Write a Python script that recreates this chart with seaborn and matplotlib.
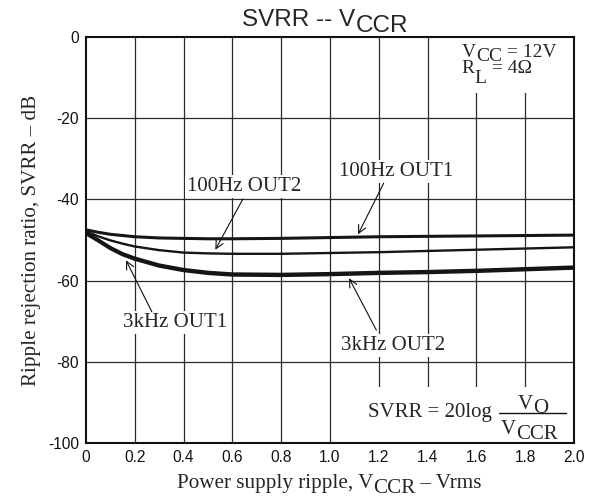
import pandas as pd
import seaborn as sns
import matplotlib.pyplot as plt
from matplotlib.patches import Rectangle
from matplotlib.lines import Line2D

# ---- data ----
ripple_v = [0, 0.05, 0.1, 0.15, 0.2, 0.3, 0.4, 0.5, 0.6, 0.8, 1.0, 1.2, 1.4, 1.6, 1.8, 2.0]
svrr_100hz_out1 = [-47.5, -48.1, -48.6, -48.9, -49.2, -49.5, -49.6, -49.7, -49.7, -49.6, -49.4, -49.2, -49.1, -49.0, -48.9, -48.8]
svrr_100hz_out2 = [-47.9, -49.1, -50.1, -50.9, -51.6, -52.5, -53.1, -53.3, -53.4, -53.4, -53.2, -53.0, -52.7, -52.4, -52.1, -51.8]
svrr_3khz_out1 = [-48.1, -49.9, -51.8, -53.3, -54.4, -56.1, -57.2, -57.9, -58.3, -58.4, -58.2, -57.9, -57.7, -57.4, -57.0, -56.6]
svrr_3khz_out2 = [-48.5, -50.3, -52.2, -53.7, -54.8, -56.5, -57.6, -58.3, -58.7, -58.8, -58.6, -58.3, -58.1, -57.8, -57.4, -57.0]

x_ticks = [0, 0.2, 0.4, 0.6, 0.8, 1.0, 1.2, 1.4, 1.6, 1.8, 2.0]
x_tick_labels = ["0", "0.2", "0.4", "0.6", "0.8", "1.0", "1.2", "1.4", "1.6", "1.8", "2.0"]
y_ticks = [0, -20, -40, -60, -80, -100]
y_tick_labels = ["0", "-20", "-40", "-60", "-80", "-100"]

sns.set_style("white")
plt.rcParams['axes.unicode_minus'] = False
plt.rcParams['font.family'] = ['Liberation Sans', 'DejaVu Sans']
SERIF = ['Liberation Serif', 'DejaVu Serif']

fig = plt.figure(figsize=(5.94, 4.99), dpi=100)
ax = fig.add_axes([0.1448, 0.1122, 0.8215, 0.8137])

curves = [
    (svrr_100hz_out1, 2.2),
    (svrr_100hz_out2, 1.7),
    (svrr_3khz_out1, 2.0),
    (svrr_3khz_out2, 2.0),
]
for vals, lw in curves:
    df = pd.DataFrame({"v": ripple_v, "svrr": vals})
    sns.lineplot(data=df, x="v", y="svrr", ax=ax, color="#151515", lw=lw, zorder=3)

ax.set_xlim(0, 2.0)
ax.set_ylim(-100, 0)
ax.set_xticks(x_ticks)
ax.set_xticklabels(x_tick_labels)
ax.set_yticks(y_ticks)
ax.set_yticklabels(y_tick_labels)
ax.tick_params(length=0, labelsize=11.2, colors="#111111")
ax.tick_params(axis="x", pad=5)
ax.tick_params(axis="y", pad=5)
ax.set_xlabel("")
ax.set_ylabel("Ripple rejection ratio, SVRR \u2013 dB", family=SERIF, fontsize=15.2, labelpad=5)

# grid
for gx in x_ticks[1:-1]:
    ax.axvline(gx, color="#2a2a2a", lw=0.9, zorder=1)
for gy in y_ticks[1:-1]:
    ax.axhline(gy, color="#2a2a2a", lw=0.9, zorder=1)
for s in ax.spines.values():
    s.set_color("#111111")
    s.set_linewidth(1.5)

# white backgrounds for the boxed notes
ax.add_patch(Rectangle((0.765, 0.862), 0.235, 0.138, transform=ax.transAxes,
                       facecolor="white", edgecolor="none", zorder=2))
ax.add_patch(Rectangle((0.572, 0.0), 0.428, 0.138, transform=ax.transAxes,
                       facecolor="white", edgecolor="none", zorder=2))


def chain(x, y, parts, size, family, transform):
    """parts: list of (text, dy_points); pieces placed one after another."""
    first = ax.text(x, y, parts[0][0], transform=transform, fontsize=size,
                    family=family, va="baseline", ha="left", zorder=6)
    prev = first
    for txt, dy in parts[1:]:
        prev = ax.annotate(txt, xy=(1, 0), xycoords=(prev, first), xytext=(0, dy),
                           textcoords="offset points", fontsize=size, family=family,
                           va="bottom", ha="left", zorder=6, annotation_clip=False)
    return first


# title
chain(0.32, 1.027, [("SVRR -- V", 0), ("CCR", -4.0)], 17.5, ['Liberation Sans'], ax.transAxes)
# x label
chain(0.186, -0.111, [("Power supply ripple, V", 0), ("CCR", -3.2), (" \u2013 Vrms", 0)],
      15.2, SERIF, ax.transAxes)
# conditions
chain(0.770, 0.9515, [("V", 0), ("CC", -2.8), (" = 12V", 0)], 14, SERIF, ax.transAxes)
chain(0.770, 0.911, [("R", 0), ("L", -7.0), (" = 4\u03a9", 0)], 14, SERIF, ax.transAxes)
# formula
chain(0.578, 0.064, [("SVRR = 20log", 0)], 15, SERIF, ax.transAxes)
chain(0.885, 0.083, [("V", 0), ("O", -3.0)], 15, SERIF, ax.transAxes)
chain(0.850, 0.021, [("V", 0), ("CCR", -3.0)], 15, SERIF, ax.transAxes)
ax.add_line(Line2D([0.846, 0.984], [0.0739, 0.0739], transform=ax.transAxes,
                   color="#111111", lw=1.0, zorder=6))

# curve labels with arrows
labels = [
    ("100Hz OUT1", (1.27, -33.2), (1.22, -36.0), (1.115, -48.6)),
    ("100Hz OUT2", (0.65, -36.9), (0.643, -39.9), (0.53, -52.4)),
    ("3kHz OUT1", (0.365, -70.4), (0.27, -67.7), (0.164, -55.0)),
    ("3kHz OUT2", (1.26, -75.9), (1.19, -72.2), (1.078, -59.4)),
]
for txt, pos, start, tip in labels:
    ax.text(pos[0], pos[1], txt, family=SERIF, fontsize=15, ha="center", va="center",
            zorder=4, bbox=dict(facecolor="white", edgecolor="none", pad=1.5))
    ax.annotate("", xy=tip, xytext=start,
                arrowprops=dict(arrowstyle="->", color="#111111", lw=0.8,
                                mutation_scale=14, shrinkA=0, shrinkB=0),
                zorder=5)

fig.savefig("out.png", dpi=100)
